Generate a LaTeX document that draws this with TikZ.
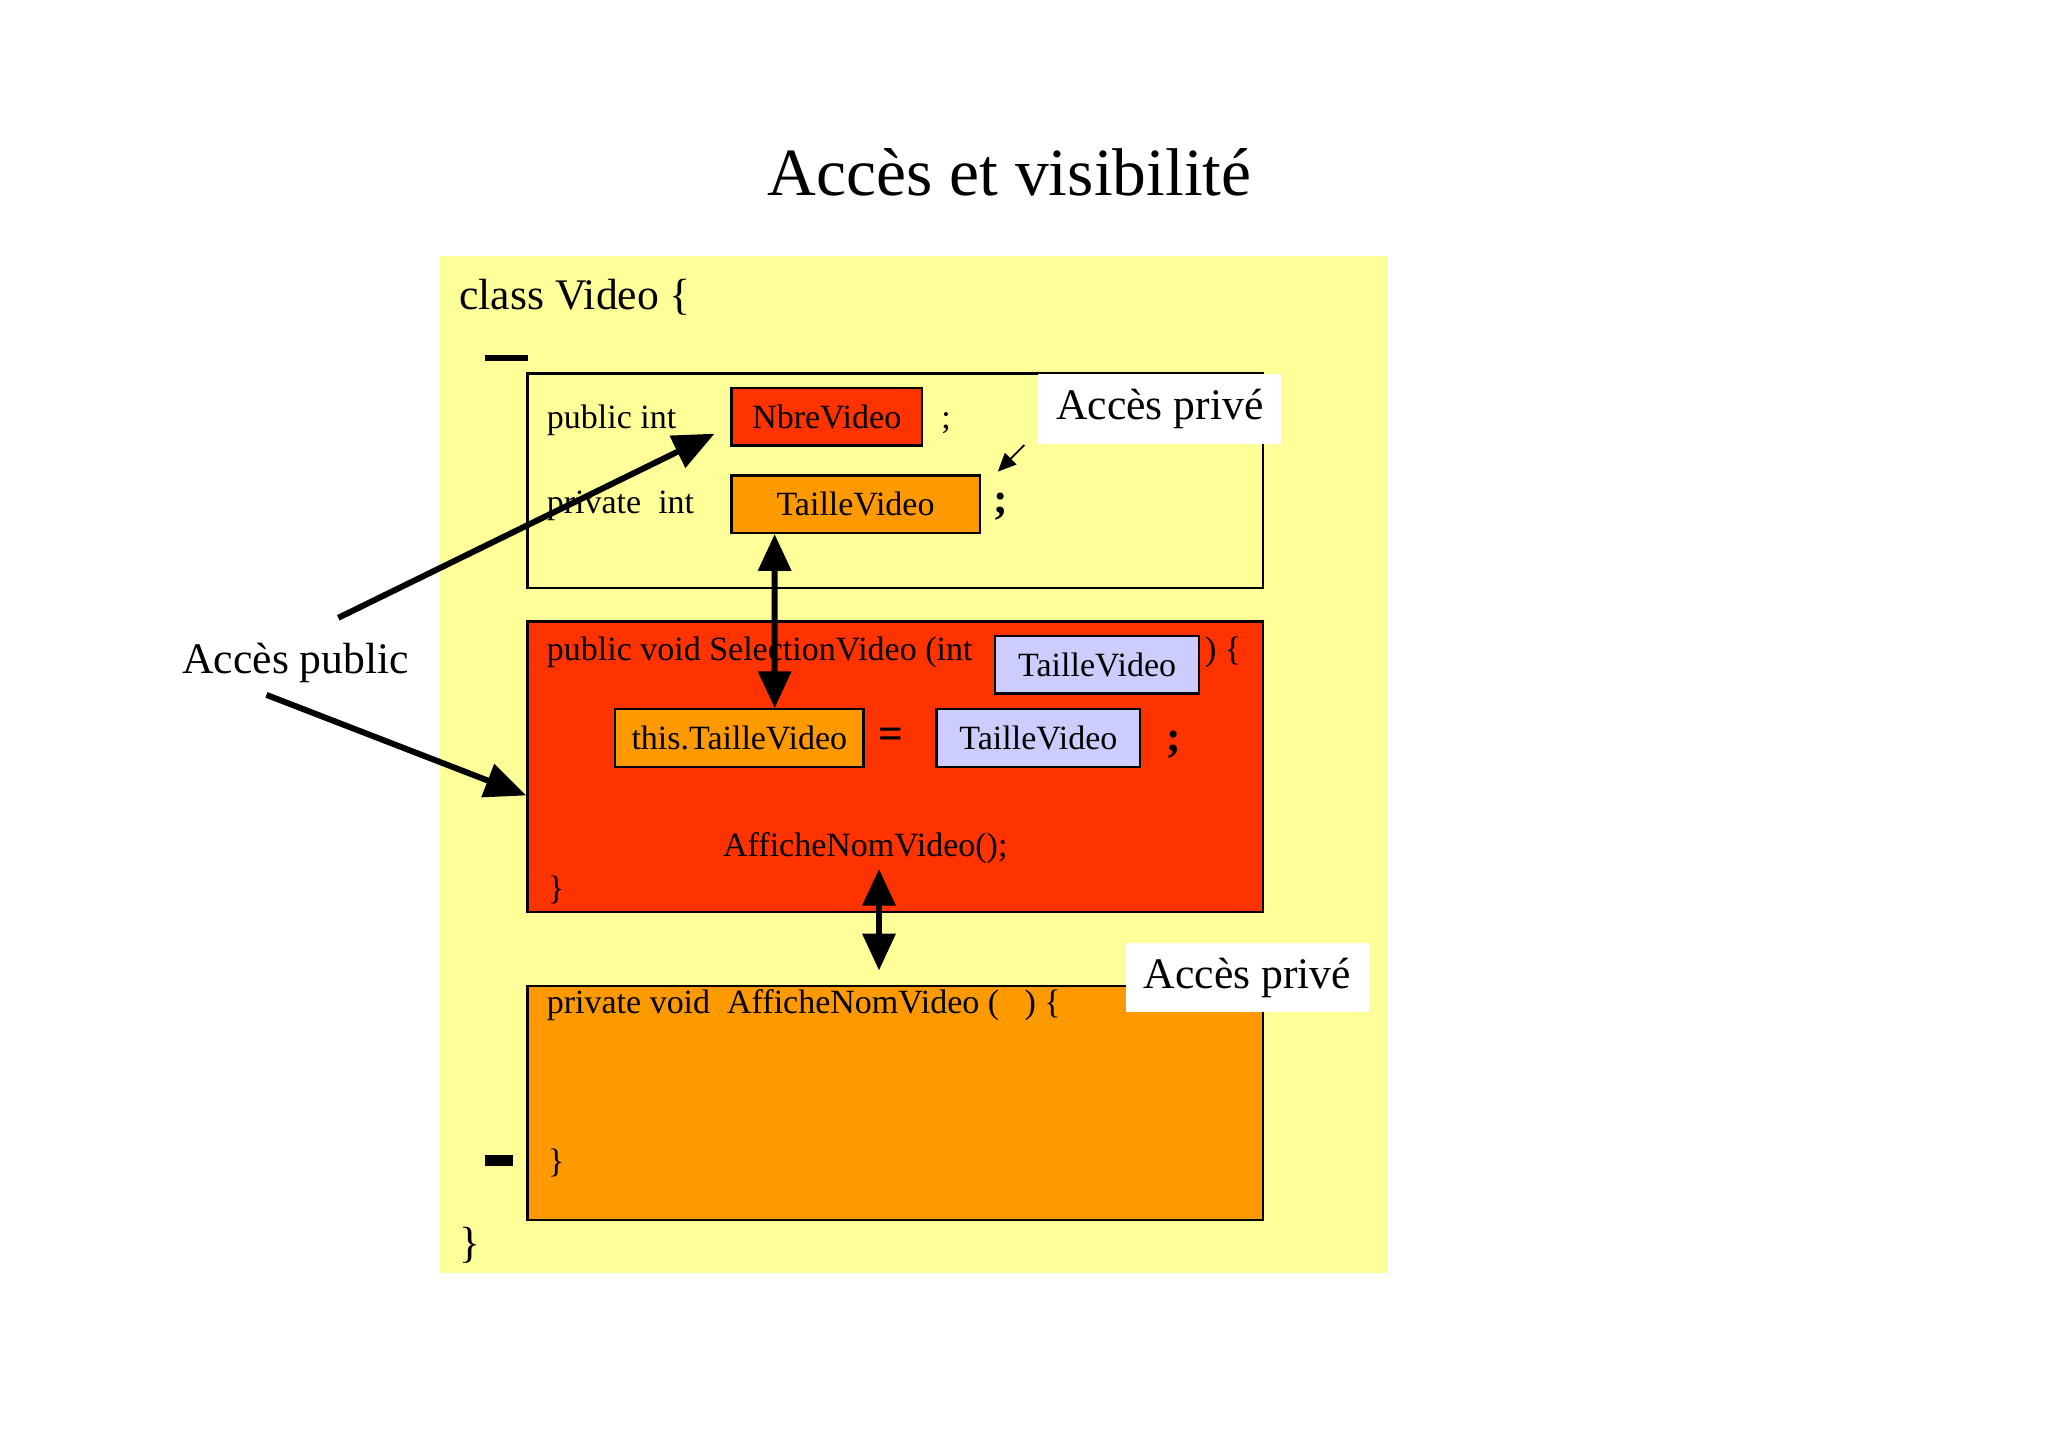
\documentclass[tikz,border=0pt]{standalone}
\usepackage{fontspec}
\setmainfont{Liberation Serif}
\usetikzlibrary{arrows.meta}
\definecolor{bgyellow}{HTML}{FFFF99}
\definecolor{redbox}{HTML}{FF3300}
\definecolor{orangebox}{HTML}{FF9900}
\definecolor{lavbox}{HTML}{CCCCFF}
\begin{document}
\begin{tikzpicture}[x=0.01cm,y=-0.01cm,
  titlefont/.style={font=\fontsize{14.7}{17}\selectfont},
  bigtxt/.style={font=\fontsize{9.5}{11}\selectfont},
  smalltxt/.style={font=\fontsize{7.4}{9}\selectfont},
  codebox/.style={draw=black, line width=0.5pt, inner sep=0pt, minimum height=0.44cm, font=\fontsize{7.4}{9}\selectfont},
  blockbox/.style={draw=black, line width=0.5pt, inner sep=0pt, minimum width=5.63cm},
  notebox/.style={fill=white, inner sep=0pt, minimum width=1.86cm, font=\fontsize{9.5}{11}\selectfont},
  bigarrow/.style={line width=1.3pt, -{Triangle[length=9pt,width=7.5pt]}},
  dblarrow/.style={line width=1.3pt, {Triangle[length=8pt,width=7pt]}-{Triangle[length=8pt,width=7pt]}},
  thinarrow/.style={line width=0.4pt, -{Triangle[length=4pt,width=3.5pt]}}
]
\useasboundingbox (0,0) rectangle (1568,1108);
\fill[white] (0,0) rectangle (1568,1108);

% title
\node[titlefont, anchor=base] (title) at (773,150) {Accès et visibilité};

% class background
\fill[bgyellow] (337,196) rectangle (1063,975);
\node[bigtxt, anchor=base west, inner sep=0pt] (classhead) at (351,237) {class Video \{};
\fill[black] (371,272) rectangle (404,276);

% fields block
\node[blockbox, fill=bgyellow, minimum height=1.64cm] (fields) at (685.5,368) {};
\node[smalltxt, anchor=base west, inner sep=0pt] (pubint) at (418,328) {public int};
\node[codebox, fill=redbox, minimum width=1.46cm] (nbre) at (633,319) {NbreVideo};
\node[smalltxt, anchor=base west, inner sep=0pt] (semi1) at (720,328) {;};
\node[smalltxt, anchor=base west, inner sep=0pt] (privint) at (418,393) {private~~int};
\node[codebox, fill=orangebox, minimum width=1.90cm] (taille) at (655,386) {TailleVideo};
\node[bigtxt, anchor=base west, inner sep=0pt] (semi2) at (760,393) {\textbf{;}};
\node[notebox, minimum height=0.54cm] (prive1) at (888,313) {Accès privé};

% public method block
\node[blockbox, fill=redbox, minimum height=2.22cm] (selmeth) at (685.5,587) {};
\node[smalltxt, anchor=base west, inner sep=0pt] (selhead) at (418,506) {public void SelectionVideo (int};
\node[codebox, fill=lavbox, minimum width=1.56cm] (param) at (840,509) {TailleVideo};
\node[smalltxt, anchor=base west, inner sep=0pt] (selclose) at (922,506) {) \{};
\node[codebox, fill=orangebox, minimum width=1.90cm] (thistaille) at (566,565) {this.TailleVideo};
\node[bigtxt, inner sep=0pt] (eq) at (682,565) {\textbf{=}};
\node[codebox, fill=lavbox, minimum width=1.56cm] (arg) at (795,565) {TailleVideo};
\node[bigtxt, anchor=base, inner sep=0pt] (semi3) at (899,575) {\textbf{;}};
\node[smalltxt, anchor=base west, inner sep=0pt] (call) at (553,656) {AfficheNomVideo();};
\node[smalltxt, anchor=base west, inner sep=0pt] (selend) at (419,689) {\}};

% private method block
\node[blockbox, fill=orangebox, minimum height=1.79cm] (privmeth) at (685.5,844.5) {};
\node[smalltxt, anchor=base west, inner sep=0pt] (privhead) at (418,776) {private void~~AfficheNomVideo (~~~) \{};
\node[smalltxt, anchor=base west, inner sep=0pt] (privend) at (419,898) {\}};
\node[notebox, minimum height=0.53cm] (prive2) at (955,748.5) {Accès privé};
\fill[black] (371,884) rectangle (393,893);

\node[bigtxt, anchor=base west, inner sep=0pt] (classend) at (351,963) {\}};

% public access label
\node[bigtxt, anchor=base west, inner sep=0pt] (pub) at (139,516) {Accès public};
\coordinate (pubstart1) at (259,473);
\coordinate (pubstart2) at (204,532);

% connectors
\draw[bigarrow] (pubstart1) -- ([shift={(-12,13)}]nbre.west);
\draw[bigarrow] (pubstart2) -- ([shift={(0,22)}]selmeth.west);
\draw[dblarrow] ([xshift=0.34cm]taille.south west) -- ([xshift=1.23cm]thistaille.north west);
\coordinate (callend) at (673,743);
\draw[dblarrow] ([shift={(120,3)}]call.south west) -- (callend);
\draw[thinarrow] ([xshift=-0.1cm]prive1.south west) -- ([shift={(13,-2)}]taille.north east);
\end{tikzpicture}
\end{document}
